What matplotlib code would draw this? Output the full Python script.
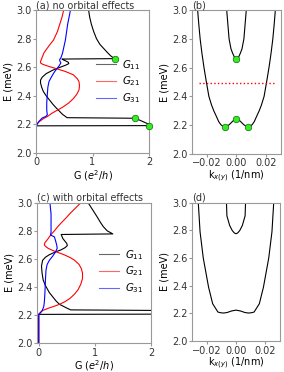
import numpy as np
import matplotlib
matplotlib.use('Agg')
import matplotlib.pyplot as plt

# panel (a): conductance, no orbital effects
E_g11_a = [2.0, 2.19, 2.192, 2.197, 2.243, 2.247, 2.27, 2.29, 2.31, 2.34, 2.37, 2.40, 2.43, 2.46,
           2.49, 2.51, 2.53, 2.555, 2.58, 2.60, 2.615, 2.625, 2.635, 2.645, 2.652, 2.657,
           2.66, 2.665, 2.68, 2.70, 2.73, 2.76, 2.8, 2.85, 2.9, 2.95, 3.0]
G11_a = [0, 0, 2.6, 2.02, 1.76, 0.55, 0.47, 0.42, 0.37, 0.3, 0.24, 0.18, 0.13, 0.1,
         0.08, 0.08, 0.11, 0.18, 0.3, 0.43, 0.53, 0.58, 0.57, 0.52, 0.48, 0.46,
         1.40, 1.37, 1.32, 1.27, 1.2, 1.13, 1.07, 1.02, 0.98, 0.95, 0.93]
E_g21_a = [2.0, 2.19, 2.2, 2.21, 2.22, 2.24, 2.255, 2.28, 2.30, 2.32, 2.35, 2.38, 2.41, 2.44,
           2.47, 2.50, 2.52, 2.547, 2.57, 2.59, 2.605, 2.62, 2.63, 2.64, 2.66, 2.7, 2.75,
           2.79, 2.85, 2.9, 2.95, 3.0]
G21_a = [0, 0, 0.01, 0.03, 0.06, 0.13, 0.2, 0.29, 0.38, 0.47, 0.58, 0.66, 0.72, 0.76,
         0.77, 0.76, 0.73, 0.66, 0.52, 0.36, 0.23, 0.12, 0.08, 0.08, 0.1, 0.14, 0.23,
         0.31, 0.38, 0.42, 0.46, 0.49]
E_g31_a = [2.0, 2.19, 2.2, 2.22, 2.245, 2.255, 2.266, 2.3, 2.35, 2.41, 2.46, 2.5, 2.53, 2.557,
           2.58, 2.61, 2.63, 2.645, 2.655, 2.665, 2.7, 2.79, 2.9, 3.0]
G31_a = [0, 0, 0.02, 0.05, 0.11, 0.17, 0.2, 0.19, 0.19, 0.2, 0.21, 0.23, 0.27, 0.31,
         0.35, 0.41, 0.44, 0.42, 0.42, 0.44, 0.47, 0.52, 0.56, 0.61]
dots_a_G = [1.76, 2.0, 1.40]
dots_a_E = [2.245, 2.19, 2.66]

# panel (c): conductance, with orbital effects
E_g11_c = [2.0, 2.205, 2.207, 2.233, 2.237, 2.25, 2.277, 2.3, 2.33, 2.36, 2.41, 2.45, 2.5,
           2.55, 2.59, 2.612, 2.63, 2.65, 2.665, 2.68, 2.695, 2.71, 2.725, 2.745, 2.765,
           2.774, 2.778, 2.8, 2.83, 2.86, 2.9, 2.95, 3.0]
G11_c = [0, 0, 2.5, 2.1, 0.57, 0.5, 0.37, 0.31, 0.25, 0.19, 0.12, 0.08, 0.06,
         0.05, 0.07, 0.12, 0.19, 0.3, 0.4, 0.47, 0.51, 0.5, 0.47, 0.43, 0.41,
         0.40, 1.32, 1.22, 1.15, 1.1, 1.04, 0.96, 0.88]
E_g21_c = [2.0, 2.205, 2.215, 2.231, 2.25, 2.266, 2.28, 2.296, 2.32, 2.35, 2.38, 2.42, 2.46,
           2.5, 2.53, 2.56, 2.59, 2.61, 2.63, 2.645, 2.66, 2.675, 2.69, 2.70, 2.715, 2.74,
           2.774, 2.8, 2.83, 2.86, 2.889, 2.92, 2.96, 3.0]
G21_c = [0, 0, 0.02, 0.06, 0.18, 0.3, 0.39, 0.47, 0.56, 0.64, 0.7, 0.75, 0.78,
         0.78, 0.76, 0.72, 0.64, 0.56, 0.45, 0.35, 0.25, 0.17, 0.12, 0.1, 0.11, 0.16,
         0.22, 0.28, 0.34, 0.41, 0.48, 0.55, 0.65, 0.75]
E_g31_c = [2.0, 2.205, 2.215, 2.23, 2.26, 2.29, 2.35, 2.45, 2.52, 2.56, 2.59, 2.62, 2.65,
           2.676, 2.70, 2.73, 2.757, 2.77, 2.79, 2.85, 2.92, 3.0]
G31_c = [0, 0, 0.03, 0.06, 0.09, 0.10, 0.11, 0.12, 0.13, 0.15, 0.19, 0.25, 0.3,
         0.33, 0.32, 0.30, 0.28, 0.21, 0.22, 0.22, 0.22, 0.2]

# panel (b): bands, no orbital effects
k_low_b = [-0.0262, -0.0254, -0.0245, -0.0233, -0.0219, -0.0203, -0.0186, -0.0168, -0.0153,
           -0.0135, -0.012, -0.0105, -0.009, -0.008, -0.0065, -0.005, -0.0035, -0.002, 0.0,
           0.002, 0.0035, 0.005, 0.0065, 0.008, 0.009, 0.0105, 0.012, 0.0135, 0.0153,
           0.0168, 0.0186, 0.0203, 0.0219, 0.0233, 0.0245, 0.0254, 0.0262]
E_low_b = [3.0, 2.9, 2.8, 2.7, 2.6, 2.5, 2.4, 2.34, 2.3,
           2.26, 2.225, 2.203, 2.193, 2.19, 2.193, 2.203, 2.218, 2.233, 2.245,
           2.233, 2.218, 2.203, 2.193, 2.19, 2.193, 2.203, 2.225, 2.26, 2.3,
           2.34, 2.4, 2.5, 2.6, 2.7, 2.8, 2.9, 3.0]
k_up_b = [-0.0066, -0.0058, -0.005, -0.0037, -0.0026, -0.0015, 0.0, 0.0015, 0.0026, 0.0037,
          0.005, 0.0058, 0.0066]
E_up_b = [3.0, 2.9, 2.8, 2.73, 2.7, 2.675, 2.66, 2.675, 2.7, 2.73, 2.8, 2.9, 3.0]
dots_b_k = [-0.008, 0.0, 0.008, 0.0]
dots_b_E = [2.19, 2.245, 2.19, 2.66]
k_cut = [-0.025, 0.025]
E_cut = [2.49, 2.49]

# panel (d): bands, with orbital effects
k_low_d = [-0.0257, -0.0245, -0.0223, -0.0187, -0.0159, -0.0123, -0.0105, -0.0084, -0.006,
           -0.003, 0.0, 0.003, 0.006, 0.0084, 0.0105, 0.0123, 0.0159, 0.0187, 0.0223,
           0.0245, 0.0257]
E_low_d = [3.0, 2.79, 2.6, 2.39, 2.27, 2.21, 2.205, 2.203, 2.207,
           2.218, 2.224, 2.218, 2.207, 2.203, 2.205, 2.21, 2.27, 2.39, 2.6,
           2.79, 3.0]
k_up_d = [-0.0065, -0.0062, -0.0043, -0.0026, -0.0012, 0.0, 0.0012, 0.0026, 0.0043, 0.0062,
          0.0065]
E_up_d = [3.0, 2.905, 2.835, 2.8, 2.782, 2.776, 2.782, 2.8, 2.835, 2.905, 3.0]

plt.rcParams['font.size'] = 7
plt.rcParams['axes.edgecolor'] = '#999999'
plt.rcParams['xtick.color'] = '#999999'
plt.rcParams['ytick.color'] = '#999999'
plt.rcParams['xtick.labelcolor'] = '#333333'
plt.rcParams['ytick.labelcolor'] = '#333333'
plt.rcParams['xtick.major.size'] = 2
plt.rcParams['ytick.major.size'] = 2
plt.rcParams['xtick.major.pad'] = 1.2
plt.rcParams['ytick.major.pad'] = 1.2

fig = plt.figure(figsize=(2.84, 3.72), dpi=100)
ax1 = fig.add_axes([0.1268, 0.5887, 0.3979, 0.3844])
ax2 = fig.add_axes([0.676, 0.586, 0.3134, 0.387])
ax3 = fig.add_axes([0.1303, 0.0775, 0.4014, 0.3775])
ax4 = fig.add_axes([0.676, 0.083, 0.31, 0.372])

lw = 0.8
for ax, data, title, anchor in [(ax1, (G11_a, E_g11_a, G21_a, E_g21_a, G31_a, E_g31_a),
                                 '(a) no orbital effects', (0.53, 0.50)),
                                (ax3, (G11_c, E_g11_c, G21_c, E_g21_c, G31_c, E_g31_c),
                                 '(c) with orbital effects', (0.54, 0.51))]:
    ax.plot(data[0], data[1], color='black', lw=lw, label='$G_{11}$')
    ax.plot(data[2], data[3], color='red', lw=lw, label='$G_{21}$')
    ax.plot(data[4], data[5], color='blue', lw=lw, label='$G_{31}$')
    ax.set_ylim(2.0, 3.0)
    ax.set_xticks([0, 1, 2])
    ax.set_yticks([2.0, 2.2, 2.4, 2.6, 2.8, 3.0])
    ax.set_xlabel('G ($e^2/h$)', labelpad=0.3)
    ax.set_ylabel('E (meV)', labelpad=1.5)
    ax.set_title(title, loc='left', fontsize=6.9, pad=0.5, color='#333333')
    leg = ax.legend(loc='center left', bbox_to_anchor=anchor, frameon=False, borderpad=0,
                    borderaxespad=0, fontsize=7.3, handlelength=2.0, labelspacing=0.3,
                    handletextpad=0.6)
    for h in leg.get_lines():
        h.set_alpha(0.6)

ax1.set_xlim(0, 2.0)
ax3.set_xlim(-0.03, 2.0)
ax1.scatter(dots_a_G, dots_a_E, s=22, c='#33ee22', edgecolors='#116611', linewidths=0.5,
            zorder=5, clip_on=False)

ax2.plot(k_low_b, E_low_b, color='black', lw=lw)
ax2.plot(k_up_b, E_up_b, color='black', lw=lw)
ax2.plot(k_cut, E_cut, color='red', lw=1.0, ls=':')
ax2.scatter(dots_b_k, dots_b_E, s=22, c='#33ee22', edgecolors='#116611', linewidths=0.5,
            zorder=5)
ax4.plot(k_low_d, E_low_d, color='black', lw=lw)
ax4.plot(k_up_d, E_up_d, color='black', lw=lw)

for ax, title in [(ax2, '(b)'), (ax4, '(d)')]:
    ax.set_xlim(-0.03, 0.03)
    ax.set_ylim(2.0, 3.0)
    ax.set_xticks([-0.02, 0.0, 0.02])
    ax.set_yticks([2.0, 2.2, 2.4, 2.6, 2.8, 3.0])
    ax.set_xlabel('k$_{x(y)}$ (1/nm)', labelpad=0.3)
    ax.set_ylabel('E (meV)', labelpad=1.5)
    ax.set_title(title, loc='left', fontsize=7, pad=0.5, color='#333333')

fig.savefig('out.png', dpi=100)
